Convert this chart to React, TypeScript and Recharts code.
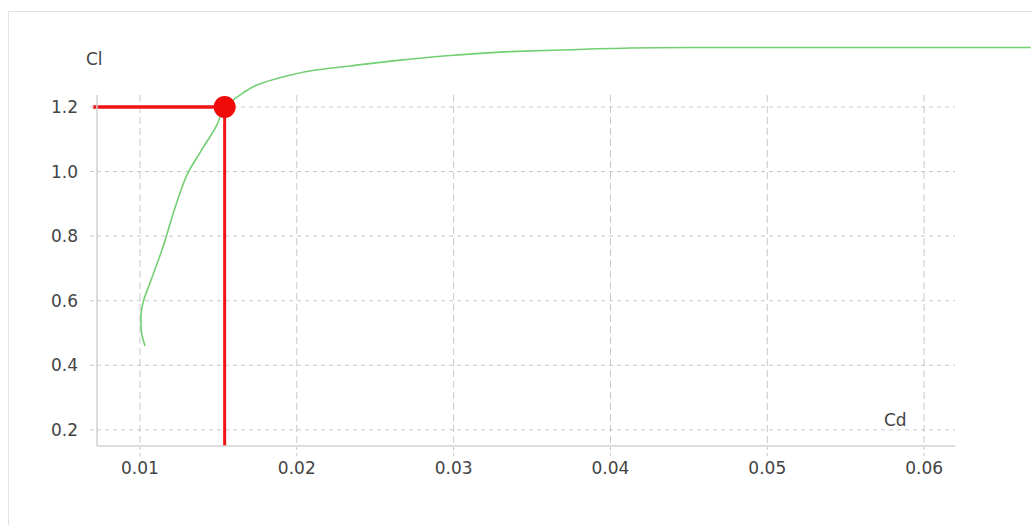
import { LineChart, Line, XAxis, YAxis, CartesianGrid, ReferenceLine, ReferenceDot } from "recharts";

// polar: drag coefficient vs lift coefficient
const cdValues = [
  0.01032, 0.01008, 0.01006, 0.01019, 0.01064, 0.0114, 0.0124, 0.01306, 0.01382, 0.0149, 0.0154,
  0.01656, 0.01745, 0.0191, 0.0213, 0.0234, 0.0266, 0.03, 0.034, 0.038, 0.0408, 0.045, 0.055, 0.0668,
];
const clValues = [
  0.46, 0.51, 0.55, 0.593, 0.655, 0.757, 0.912, 0.996, 1.058, 1.144, 1.197, 1.243, 1.268, 1.293,
  1.315, 1.327, 1.345, 1.36, 1.372, 1.378, 1.382, 1.384, 1.384, 1.384,
];
const cdTicks = [0.01, 0.02, 0.03, 0.04, 0.05, 0.06];
const clTicks = [0.2, 0.4, 0.6, 0.8, 1.0, 1.2];
const selected = { cd: 0.0154, cl: 1.2 };

const polar = cdValues.map((cd, i) => ({ cd, cl: clValues[i] }));

const font = "'DejaVu Sans', sans-serif";
const tick = { fontSize: 17, fill: "#444", fontFamily: font };

export default function App() {
  return (
    <div style={{ position: "absolute", left: 0, top: 0, width: 1032, height: 525, overflow: "hidden", background: "#fff" }}>
      <style>{`.polar svg * { clip-path: none !important; }`}</style>
      <div style={{ position: "absolute", left: 8, top: 11, width: 1030, height: 520, border: "1px solid #e2e2e2" }} />
      <div className="polar" style={{ position: "absolute", left: 0, top: 0 }}>
        <LineChart width={1032} height={525} data={polar} margin={{ top: 95, right: 77, bottom: 49, left: 47 }}>
          <CartesianGrid horizontal={false} syncWithTicks stroke="#c8c8c8" strokeDasharray="7 4" />
          <CartesianGrid vertical={false} syncWithTicks stroke="#c8c8c8" strokeDasharray="4 4" />
          <XAxis
            dataKey="cd"
            type="number"
            domain={[0.00726, 0.06197]}
            allowDataOverflow
            ticks={cdTicks}
            tickFormatter={(v: number) => v.toFixed(2)}
            tick={tick}
            height={30}
            tickSize={10}
            tickMargin={6}
            axisLine={{ stroke: "#d0d0d0", strokeWidth: 1.5 }}
            tickLine={{ stroke: "#c8c8c8", strokeDasharray: "3 3" }}
          />
          <YAxis
            dataKey="cl"
            type="number"
            domain={[0.15, 1.237]}
            allowDataOverflow
            ticks={clTicks}
            tickFormatter={(v: number) => v.toFixed(1)}
            tick={tick}
            width={50}
            tickSize={7}
            tickMargin={12}
            axisLine={{ stroke: "#d0d0d0", strokeWidth: 1.5 }}
            tickLine={{ stroke: "#c8c8c8", strokeDasharray: "4 4" }}
          />
          <Line
            type="monotoneY"
            dataKey="cl"
            stroke="#72cf72"
            strokeWidth={1.6}
            dot={false}
            activeDot={false}
            isAnimationActive={false}
          />
          <ReferenceLine
            segment={[{ x: 0.007, y: selected.cl }, { x: selected.cd, y: selected.cl }]}
            stroke="#f01414"
            strokeWidth={3.5}
            ifOverflow="visible"
          />
          <ReferenceLine
            segment={[{ x: selected.cd, y: selected.cl }, { x: selected.cd, y: 0.15 }]}
            stroke="#f01414"
            strokeWidth={3}
            ifOverflow="visible"
          />
          <ReferenceDot x={selected.cd} y={selected.cl} r={11} fill="#f00a0a" stroke="none" ifOverflow="visible" />
        </LineChart>
      </div>
      <div style={{ position: "absolute", left: 86, top: 49, fontFamily: font, fontSize: 17, color: "#444" }}>Cl</div>
      <div style={{ position: "absolute", left: 884, top: 410, fontFamily: font, fontSize: 17, color: "#444" }}>Cd</div>
    </div>
  );
}
